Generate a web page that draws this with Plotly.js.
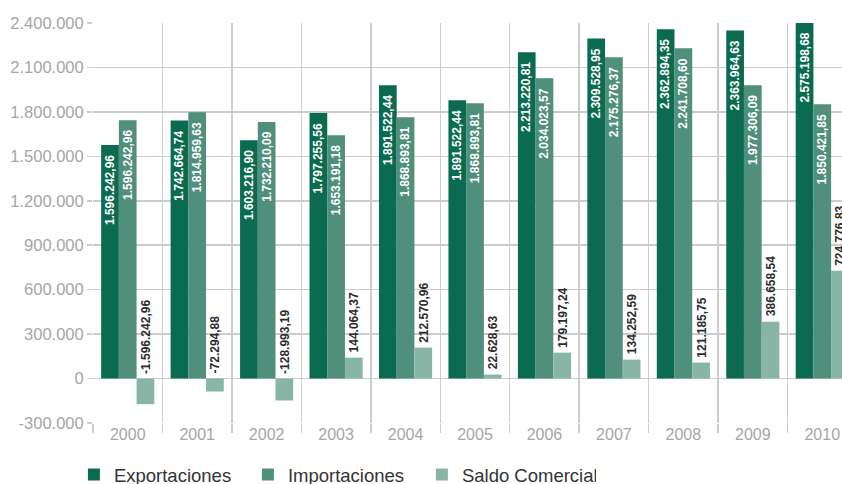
<!DOCTYPE html>
<html>
<head>
<meta charset="utf-8">
<script src="https://cdn.plot.ly/plotly-3.0.1.min.js"></script>
<style>
html,body{margin:0;padding:0;background:#fff;overflow:hidden;width:842px;height:484px;}
#chart{width:870px;height:484px;}
</style>
</head>
<body>
<div id="chart"></div>
<script>
// Categories
const years = ['2000','2001','2002','2003','2004','2005','2006','2007','2008','2009','2010'];

// Bar values
const exportaciones = [1576000, 1742665, 1609000, 1792000, 1980000, 1879000, 2202000, 2296000, 2357000, 2350000, 2575199];
const importaciones = [1744000, 1798000, 1731000, 1643000, 1764000, 1859000, 2027000, 2168000, 2229000, 1980000, 1852000];
const saldo = [-173000, -87500, -148000, 141000, 209000, 27000, 175000, 128000, 108000, 384000, 727000];

// Labels as printed on the chart
const exportLabels = ['1.596.242,96','1.742.664,74','1.603.216,90','1.797.255,56','1.891.522,44','1.891.522,44','2.213.220,81','2.309.528,95','2.362.894,35','2.363.964,63','2.575.198,68'];
const importLabels = ['1.596.242,96','1.814.959,63','1.732.210,09','1.653.191,18','1.868.893,81','1.868.893,81','2.034.023,57','2.175.276,37','2.241.708,60','1.977.306,09','1.850.421,85'];
const saldoLabels = ['-1.596.242,96','-72.294,88','-128.993,19','144.064,37','212.570,96','22.628,63','179.197,24','134.252,59','121.185,75','386.658,54','724.776,83'];

// Y axis ticks
const yTickVals = [-300000, 0, 300000, 600000, 900000, 1200000, 1500000, 1800000, 2100000, 2400000];
const yTickText = ['-300.000','0','300.000','600.000','900.000','1.200.000','1.500.000','1.800.000','2.100.000','2.400.000'];

const seriesNames = ['Exportaciones','Importaciones','Saldo Comercial'];
const colors = ['#0b6b50','#4f8f7b','#89b5a6'];

const yMin = -300000, yMax = 2400000;
const bargap = 0.235;
const barW = (1 - bargap) / 3;

const FONT = 'Liberation Sans, Arial, sans-serif';

const traces = [exportaciones, importaciones, saldo].map((vals, k) => ({
  type: 'bar',
  name: seriesNames[k],
  x: years,
  y: vals,
  marker: {color: colors[k], line: {width: 0}},
  hoverinfo: 'skip'
}));

const annotations = [];
years.forEach((yr, i) => {
  [[exportaciones, exportLabels, -1], [importaciones, importLabels, 0]].forEach(([vals, labs, off]) => {
    annotations.push({
      x: i + off * barW, xref: 'x',
      y: Math.min(vals[i], yMax), yref: 'y',
      text: labs[i], showarrow: false, textangle: -90,
      xanchor: 'center', yanchor: 'top', yshift: -8,
      font: {family: FONT, size: 12, color: '#ffffff', weight: 'bold'}
    });
  });
  annotations.push({
    x: i + barW, xref: 'x',
    y: Math.max(saldo[i], 0), yref: 'y',
    text: saldoLabels[i], showarrow: false, textangle: -90,
    xanchor: 'center', yanchor: 'bottom', yshift: 3,
    font: {family: FONT, size: 12, color: '#2b2b2b', weight: 'bold'}
  });
});

const layout = {
  width: 870, height: 484,
  margin: {l: 93, r: 13, t: 23, b: 61, autoexpand: false},
  paper_bgcolor: '#ffffff', plot_bgcolor: '#ffffff',
  font: {family: FONT, color: '#a6a6a6'},
  barmode: 'group', bargap: bargap, bargroupgap: 0,
  showlegend: true,
  legend: {
    orientation: 'h', x: -0.025, xanchor: 'left', y: -0.0825, yanchor: 'top',
    font: {family: FONT, size: 18.5, color: '#333333'},
    entrywidth: 129, entrywidthmode: 'pixels',
    traceorder: 'normal'
  },
  xaxis: {
    type: 'category',
    tickson: 'boundaries',
    showgrid: true, gridcolor: '#cccccc', gridwidth: 1.5,
    ticks: 'outside', ticklen: 9, tickcolor: '#cccccc', tickwidth: 1.5,
    tickfont: {family: FONT, size: 16, color: '#a6a6a6'},
    showline: false, zeroline: false,
    range: [-0.5, 10.5]
  },
  yaxis: {
    range: [yMin, yMax],
    tickmode: 'array', tickvals: yTickVals, ticktext: yTickText,
    showgrid: true, gridcolor: '#cccccc', gridwidth: 1.5,
    ticks: 'outside', ticklen: 5, tickcolor: '#cccccc', tickwidth: 1.5,
    tickfont: {family: FONT, size: 16.5, color: '#a6a6a6'},
    zeroline: true, zerolinecolor: '#cccccc', zerolinewidth: 1.5,
    showline: false
  },
  annotations: annotations
};

Plotly.newPlot('chart', traces, layout, {staticPlot: true, displayModeBar: false});
</script>
</body>
</html>
